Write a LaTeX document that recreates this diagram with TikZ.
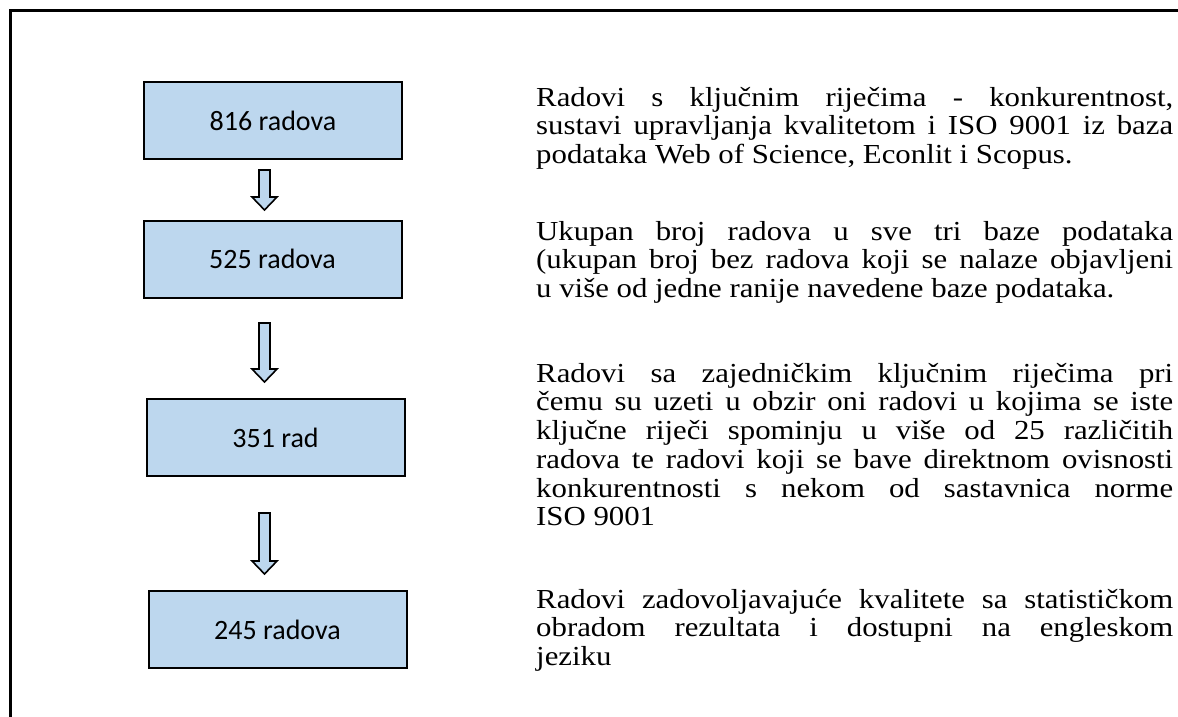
\documentclass[tikz,border=0pt]{standalone}
\usepackage{fontspec}
\setmainfont{Liberation Serif}[FakeStretch=1.12]
\newfontfamily\boxfont{Carlito}
\usetikzlibrary{calc}
\definecolor{boxblue}{RGB}{189,215,238}
\newcommand\topstrut{\vrule height 23pt depth 0pt width 0pt}
\newcommand\blkarrow[2]{%
  \draw[blockarrow] ($(#1)+(-5.5,0)$) -- ($(#2)+(-5.5,-13)$) -- ($(#2)+(-12.5,-13)$) -- (#2)
    -- ($(#2)+(12.5,-13)$) -- ($(#2)+(5.5,-13)$) -- ($(#1)+(5.5,0)$) -- cycle;}
\begin{document}
\begin{tikzpicture}[x=1pt,y=-1pt,
  stepbox/.style={draw=black, line width=2pt, fill=boxblue,
    font=\boxfont\fontsize{28}{34}\selectfont, inner sep=0pt,
    minimum width=258pt, minimum height=77pt},
  blockarrow/.style={draw=black, line width=1.6pt, fill=boxblue, line join=miter},
  desc/.style={anchor=north west, inner sep=0pt, text width=637pt, align=justify,
    font={\fontsize{27.5}{28.7}\selectfont}}]
\useasboundingbox (0,0) rectangle (1178,717);
\draw[line width=2.7pt] (10.5,717) -- (10.5,10.5) -- (1178,10.5);

\node[stepbox] (b1) at (273,120.5) {816 radova};
\node[stepbox] (b2) at (272.5,259) {525 radova};
\node[stepbox] (b3) at (275.5,437.5) {351 rad};
\node[stepbox] (b4) at (277.5,629.5) {245 radova};

\coordinate (a1t) at (264.5,170); \coordinate (a1h) at (264.5,210);
\coordinate (a2t) at (264.5,323); \coordinate (a2h) at (264.5,382);
\coordinate (a3t) at (264.5,513); \coordinate (a3h) at (264.5,574);
\blkarrow{a1t}{a1h}
\blkarrow{a2t}{a2h}
\blkarrow{a3t}{a3h}

\node[desc] (t1) at (536,83) {\topstrut Radovi s ključnim riječima - konkurentnost,\linebreak
sustavi upravljanja kvalitetom i ISO 9001 iz baza\linebreak
podataka Web of Science, Econlit i Scopus.};
\node[desc] (t2) at (536,217) {\topstrut Ukupan broj radova u sve tri baze podataka\linebreak
(ukupan broj bez radova koji se nalaze objavljeni\linebreak
u više od jedne ranije navedene baze podataka.};
\node[desc] (t3) at (536,359) {\topstrut Radovi sa zajedničkim ključnim riječima pri\linebreak
čemu su uzeti u obzir oni radovi u kojima se iste\linebreak
ključne riječi spominju u više od 25 različitih\linebreak
radova te radovi koji se bave direktnom ovisnosti\linebreak
konkurentnosti s nekom od sastavnica norme\linebreak
ISO 9001};
\node[desc] (t4) at (536,585) {\topstrut Radovi zadovoljavajuće kvalitete sa statističkom\linebreak
obradom rezultata i dostupni na engleskom\linebreak
jeziku};
\end{tikzpicture}
\end{document}
